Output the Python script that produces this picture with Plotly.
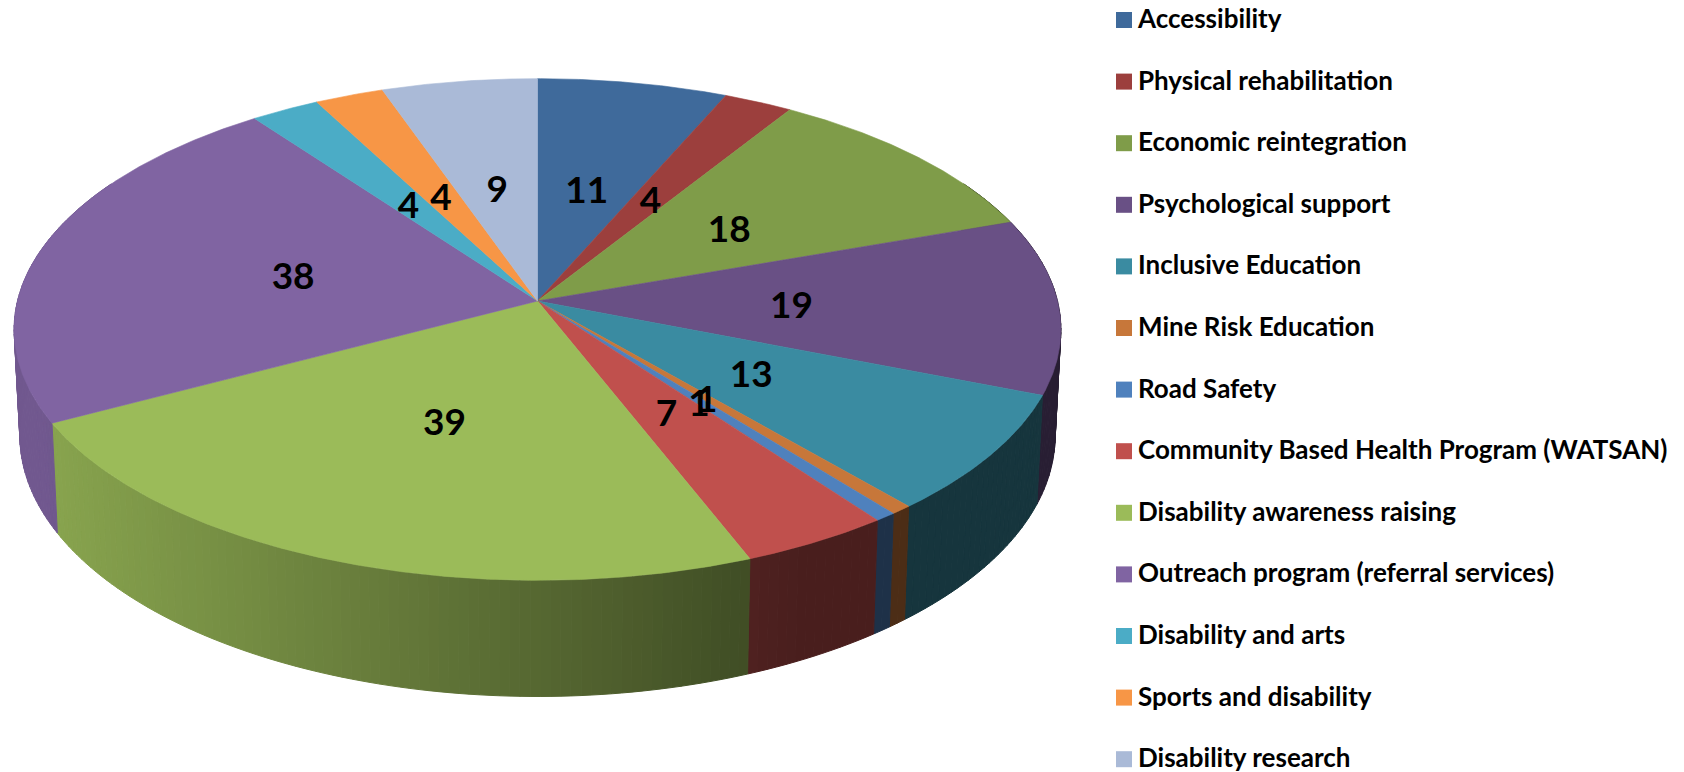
import numpy as np
import plotly.graph_objects as go

categories = ["Accessibility", "Physical rehabilitation", "Economic reintegration",
              "Psychological support", "Inclusive Education", "Mine Risk Education",
              "Road Safety", "Community Based Health Program (WATSAN)",
              "Disability awareness raising", "Outreach program (referral services)",
              "Disability and arts", "Sports and disability", "Disability research"]
values = [11, 4, 18, 19, 13, 1, 1, 7, 39, 38, 4, 4, 9]
colors = ["#3F6A9B", "#9C3F3D", "#7F9C49", "#695085", "#3A8BA1", "#C7773A", "#4F81BD",
          "#C0504D", "#9BBB59", "#8064A2", "#4BACC6", "#F79646", "#AABAD7"]

W, H = 1684, 772
CX, CY, A, B, K = 537.5, 301.0, 520.0, 247.6, 0.1135   # perspective of the pie's top face
DEPTH, SX, SY = 105.0, 0.989, 1.04                      # extrusion of the rim
LEG_X, LEG_TEXT_X, LEG_Y0, LEG_DY = 1124.0, 1138.0, 20.0, 61.6
LABEL_DY = 5.0


def top(theta, r=1.0):
    u, v = r * np.sin(theta), r * np.cos(theta)
    d = 1 + K * v
    return CX + A * u / d, CY - B * v / d


def rim(theta):
    x, y = top(theta)
    return CX + (x - CX) * SX, y + DEPTH + (SY - 1) * (y - CY)


def shade(hex_col, f):
    rgb = [int(hex_col[i:i + 2], 16) for i in (1, 3, 5)]
    return "rgb(%d,%d,%d)" % tuple(round(c * f) for c in rgb)


def side_factor(x):
    return float(np.clip(0.87 - 0.49 * (x - 59) / 741, 0.38, 0.88))


total = sum(values)
edges = np.cumsum([0] + values) / total * 2 * np.pi

fig = go.Figure()

# side wall, as thin shaded strips
for s, col in enumerate(colors):
    a0, a1 = edges[s], edges[s + 1]
    a0v, a1v = max(a0, np.radians(60)), min(a1, np.radians(300))
    if a1v <= a0v:
        continue
    n = max(1, int(np.degrees(a1v - a0v) / 1.0))
    stops = np.linspace(a0v, a1v, n + 1)
    for i in range(n):
        th = np.linspace(stops[i], stops[i + 1], 3)
        tx, ty = top(th)
        bx, by = rim(th)
        c = shade(col, side_factor(float(tx.mean())))
        fig.add_trace(go.Scatter(x=np.r_[tx, bx[::-1], tx[0]], y=np.r_[ty, by[::-1], ty[0]],
                                 mode="lines", fill="toself", fillcolor=c,
                                 line=dict(color=c, width=1), hoverinfo="skip", showlegend=False))

# top face
for s, col in enumerate(colors):
    th = np.linspace(edges[s], edges[s + 1], max(3, int(values[s] * 6)))
    tx, ty = top(th)
    fig.add_trace(go.Scatter(x=np.r_[CX, tx, CX], y=np.r_[CY, ty, CY], mode="lines", fill="toself",
                             fillcolor=col, line=dict(color=col, width=0.6),
                             name=categories[s], hoverinfo="name", showlegend=False))

# value labels
mid = (edges[:-1] + edges[1:]) / 2
lx, ly = top(mid, 0.488)
fig.add_trace(go.Scatter(x=lx, y=ly + LABEL_DY, mode="text", text=[str(v) for v in values],
                         textposition="middle center",
                         textfont=dict(family="Lato", size=37, color="#000000", weight=700),
                         hoverinfo="skip", showlegend=False))

# legend column
for i, (name, col) in enumerate(zip(categories, colors)):
    y = LEG_Y0 + LEG_DY * i
    fig.add_trace(go.Scatter(x=[LEG_X], y=[y], mode="markers",
                             marker=dict(symbol="square", size=16, color=col),
                             hoverinfo="skip", showlegend=False))
    fig.add_trace(go.Scatter(x=[LEG_TEXT_X], y=[y + 1.5], mode="text", text=[name],
                             textposition="middle right",
                             textfont=dict(family="Lato", size=26, color="#000000", weight=700),
                             hoverinfo="skip", showlegend=False))

fig.update_layout(width=W, height=H, margin=dict(l=0, r=0, t=0, b=0),
                  paper_bgcolor="#FFFFFF", plot_bgcolor="#FFFFFF", showlegend=False,
                  xaxis=dict(range=[0, W], visible=False, fixedrange=True),
                  yaxis=dict(range=[H, 0], visible=False, fixedrange=True))
fig.write_html("out.html", config=dict(displayModeBar=False),
               post_script="document.body.style.margin='0';document.body.style.overflow='hidden';")
